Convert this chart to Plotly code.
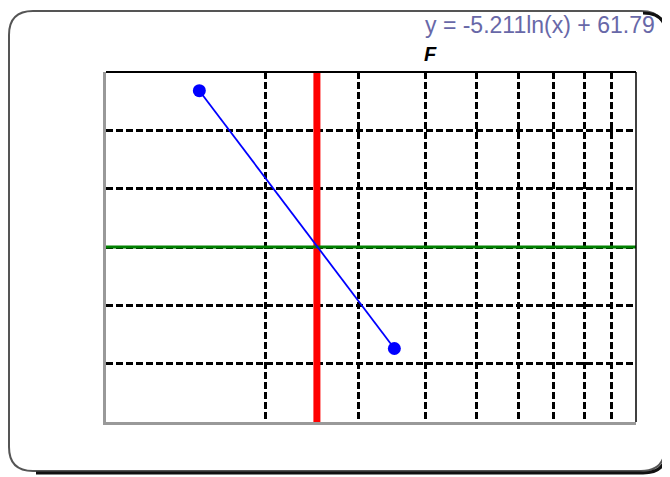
import plotly.graph_objects as go

# ---- data ----
point_x = [1.5, 3.5]
point_y = [59.68, 55.26]
ref_x = 2.5          # red vertical reference
ref_y = 57           # green horizontal reference
x_range = [1, 10]
y_range = [54, 60]
x_grid = [2, 3, 4, 5, 6, 7, 8, 9]
y_grid = [55, 56, 57, 58, 59]
equation = "y = -5.211ln(x) + 61.79"
title = "F"

# page body has an 8px margin; figure sized to fill the rest of the window
OFF = 8
W, H = 670 - OFF, 477 - OFF
PL, PR, PT, PB = 106, 636, 72, 422      # plot area in window pixels
L, T = PL - OFF, PT - OFF
R, B = W - (PR - OFF), H - (PB - OFF)
PW, PH = PR - PL, PB - PT


def X(px):
    return (px - PL) / PW


def Y(py):
    return (PB - py) / PH


fig = go.Figure()
fig.add_trace(go.Scatter(x=[ref_x, ref_x], y=y_range, mode="lines",
                         line=dict(color="#ff0000", width=7), hoverinfo="skip",
                         showlegend=False, cliponaxis=False))
fig.add_trace(go.Scatter(x=x_range, y=[ref_y, ref_y], mode="lines",
                         line=dict(color="#008000", width=3), hoverinfo="skip",
                         showlegend=False, cliponaxis=False))
fig.add_trace(go.Scatter(x=point_x, y=point_y, mode="lines+markers",
                         line=dict(color="#0000ff", width=1.8),
                         marker=dict(color="#0000ff", size=13),
                         showlegend=False))


def rrect(x0, y0, x1, y1, r):
    return (f"M {X(x0 + r)},{Y(y0)} L {X(x1 - r)},{Y(y0)} "
            f"Q {X(x1)},{Y(y0)} {X(x1)},{Y(y0 + r)} "
            f"L {X(x1)},{Y(y1 - r)} Q {X(x1)},{Y(y1)} {X(x1 - r)},{Y(y1)} "
            f"L {X(x0 + r)},{Y(y1)} Q {X(x0)},{Y(y1)} {X(x0)},{Y(y1 - r)} "
            f"L {X(x0)},{Y(y0 + r)} Q {X(x0)},{Y(y0)} {X(x0 + r)},{Y(y0)} Z")


def shadow(x0, y0, x1, y1, r):
    return (f"M {X(x1 - r)},{Y(y0)} Q {X(x1)},{Y(y0)} {X(x1)},{Y(y0 + r)} "
            f"L {X(x1)},{Y(y1 - r)} Q {X(x1)},{Y(y1)} {X(x1 - r)},{Y(y1)} "
            f"L {X(x0 + r)},{Y(y1)}")


shapes = [
    dict(type="path", xref="paper", yref="paper", path=rrect(9, 11, 665, 471, 24),
         line=dict(color="#555555", width=2), layer="below"),
    dict(type="path", xref="paper", yref="paper", path=shadow(12, 13, 667, 473, 24),
         line=dict(color="#111111", width=3), layer="below"),
    dict(type="line", xref="paper", yref="paper", x0=0, x1=1, y0=1, y1=1,
         line=dict(color="#000000", width=2)),
    dict(type="line", xref="paper", yref="paper", x0=1, x1=1, y0=0, y1=1,
         line=dict(color="#000000", width=1.5)),
]

fig.update_layout(
    width=W, height=H, autosize=False,
    margin=dict(l=L, r=R, t=T, b=B, pad=0),
    paper_bgcolor="white", plot_bgcolor="white",
    shapes=shapes,
    xaxis=dict(type="log", range=[0, 1], tickvals=x_grid, showticklabels=False,
               ticks="", showgrid=True, gridcolor="#000000", gridwidth=3,
               griddash="7px,3px", zeroline=False, showline=True,
               linecolor="#999999", linewidth=3, fixedrange=True),
    yaxis=dict(range=y_range, tickvals=y_grid, showticklabels=False, ticks="",
               showgrid=True, gridcolor="#000000", gridwidth=3,
               griddash="7px,3px", zeroline=False, showline=True,
               linecolor="#999999", linewidth=3, fixedrange=True),
    annotations=[
        dict(text=equation, xref="paper", yref="paper", x=X(657), y=Y(25),
             xanchor="right", yanchor="middle", showarrow=False,
             font=dict(family="Liberation Sans, Arial", size=23, color="#6868a8")),
        dict(text=f"<b><i>{title}</i></b>", xref="paper", yref="paper",
             x=X(422), y=Y(54), xanchor="left", yanchor="middle", showarrow=False,
             font=dict(family="Liberation Sans, Arial", size=20, color="#000000")),
    ],
)

fig.write_html("out.html")
